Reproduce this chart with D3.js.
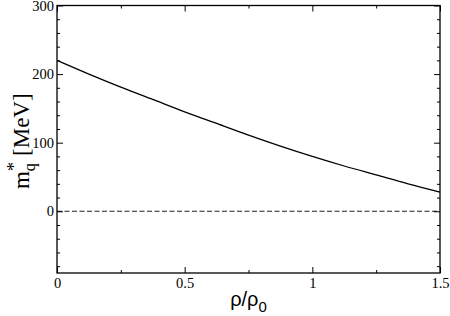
<!DOCTYPE html>
<html>
<head>
<meta charset="utf-8">
<script src="https://cdn.jsdelivr.net/npm/d3@7"></script>
<style>
  body { margin: 0; background: #fff; }
  .tick text { font-family: "Liberation Serif", "Times New Roman", serif; font-size: 14.5px; fill: #000; }
  .domain { display: none; }
  .tick line { stroke: #000; stroke-width: 1; }
</style>
</head>
<body>
<div id="chart"></div>
<script>
// density rho/rho0 and effective quark mass (MeV)
const rho = [0, 0.125, 0.25, 0.375, 0.5, 0.625, 0.75, 0.875, 1.0, 1.125, 1.25, 1.375, 1.5];
const mass = [220, 200, 181, 163, 145, 128, 111, 95, 80, 66, 53, 40, 28];

const xMajor = [0, 0.5, 1, 1.5];
const xMinor = [0.25, 0.75, 1.25];
const yMajor = [0, 100, 200, 300];
const yMinor = [-80, -60, -40, -20, 20, 40, 60, 80, 120, 140, 160, 180, 220, 240, 260, 280];

const margin = { top: 5.5, right: 10, bottom: 43, left: 57 },
  width = 440 - margin.left,
  height = 273 - margin.top;

const svg = d3
  .select("#chart")
  .append("svg")
  .attr("width", 450)
  .attr("height", 316)
  .append("g")
  .attr("transform", `translate(${margin.left},${margin.top})`);

const x = d3.scaleLinear().domain([0, 1.5]).range([0, width]);
const y = d3.scaleLinear().domain([-90, 300]).range([height, 0]);

// zero line
svg
  .append("line")
  .attr("x1", 0)
  .attr("x2", width)
  .attr("y1", y(0))
  .attr("y2", y(0))
  .attr("stroke", "#222")
  .attr("stroke-width", 1.2)
  .attr("stroke-dasharray", "5,2.5");

// curve
const line = d3.line().x((d, i) => x(rho[i])).y((d) => y(d)).curve(d3.curveCatmullRom);
svg
  .append("path")
  .datum(mass)
  .attr("d", line)
  .attr("fill", "none")
  .attr("stroke", "#000")
  .attr("stroke-width", 1.3);

// axes, ticks inward on all four sides
svg.append("g").attr("transform", `translate(0,${height})`)
  .call(d3.axisBottom(x).tickValues(xMajor).tickSize(-6).tickPadding(5).tickFormat(d3.format("")));
svg.append("g").attr("transform", `translate(0,${height})`)
  .call(d3.axisBottom(x).tickValues(xMinor).tickSize(-3).tickFormat(""));
svg.append("g")
  .call(d3.axisTop(x).tickValues(xMajor).tickSize(-6).tickFormat(""));
svg.append("g")
  .call(d3.axisTop(x).tickValues(xMinor).tickSize(-3).tickFormat(""));

svg.append("g")
  .call(d3.axisLeft(y).tickValues(yMajor).tickSize(-6).tickPadding(3));
svg.append("g")
  .call(d3.axisLeft(y).tickValues(yMinor).tickSize(-3).tickFormat(""));
svg.append("g").attr("transform", `translate(${width},0)`)
  .call(d3.axisRight(y).tickValues(yMajor).tickSize(-6).tickFormat(""));
svg.append("g").attr("transform", `translate(${width},0)`)
  .call(d3.axisRight(y).tickValues(yMinor).tickSize(-3).tickFormat(""));

// frame
svg
  .append("rect")
  .attr("width", width)
  .attr("height", height)
  .attr("fill", "none")
  .attr("stroke", "#000")
  .attr("stroke-width", 1.3);

// axis titles
svg
  .append("text")
  .attr("x", width / 2)
  .attr("y", height + 33)
  .attr("text-anchor", "middle")
  .style("font-family", "'Liberation Sans', Arial, sans-serif")
  .style("font-size", "20px")
  .html('ρ/ρ<tspan dy="6" font-size="15">0</tspan>');

const yl = svg
  .append("text")
  .attr("transform", `translate(${-margin.left + 29},${height / 2 + 2}) rotate(-90)`)
  .attr("text-anchor", "middle")
  .style("font-family", "'Liberation Serif', 'Times New Roman', serif")
  .style("font-size", "23px");
yl.append("tspan").text("m");
yl.append("tspan").attr("dy", 6).style("font-size", "16px").text("q");
yl.append("tspan").attr("dx", -8).attr("dy", -15).style("font-size", "19px").text("*");
yl.append("tspan").attr("dy", 9).text("\u00a0[MeV]");
</script>
</body>
</html>
